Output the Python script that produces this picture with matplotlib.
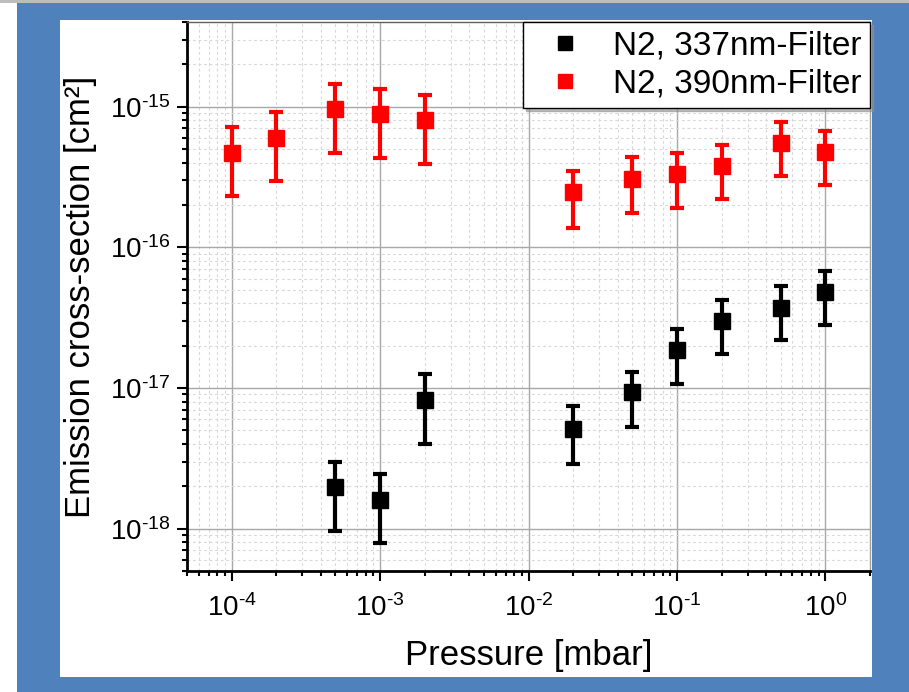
import matplotlib
matplotlib.use("Agg")
import matplotlib.pyplot as plt
from matplotlib.patches import Rectangle
from matplotlib.lines import Line2D
from matplotlib.ticker import LogLocator, NullFormatter, FixedLocator, FuncFormatter
import numpy as np

plt.rcParams['font.family'] = ['Liberation Sans', 'DejaVu Sans']
plt.rcParams['mathtext.fontset'] = 'custom'
plt.rcParams['mathtext.rm'] = 'Liberation Sans'
plt.rcParams['mathtext.it'] = 'Liberation Sans:italic'
plt.rcParams['mathtext.bf'] = 'Liberation Sans:bold'
plt.rcParams['axes.unicode_minus'] = False

# Data
pressure = [1e-4, 2e-4, 5e-4, 1e-3, 2e-3, 2e-2, 5e-2, 1e-1, 2e-1, 5e-1, 1.0]

red_y = [4.71e-16, 6.02e-16, 9.6e-16, 8.87e-16, 8.04e-16,
         2.46e-16, 3.06e-16, 3.32e-16, 3.79e-16, 5.49e-16, 4.79e-16]
red_hi = [7.15e-16, 9.1e-16, 1.44e-15, 1.34e-15, 1.21e-15,
          3.51e-16, 4.37e-16, 4.71e-16, 5.35e-16, 7.74e-16, 6.68e-16]
red_lo = [2.32e-16, 2.96e-16, 4.67e-16, 4.34e-16, 3.92e-16,
          1.37e-16, 1.76e-16, 1.9e-16, 2.2e-16, 3.2e-16, 2.78e-16]

black_x = [5e-4, 1e-3, 2e-3, 2e-2, 5e-2, 1e-1, 2e-1, 5e-1, 1.0]
black_y = [1.98e-18, 1.6e-18, 8.2e-18, 5.1e-18, 9.3e-18, 1.85e-17, 2.98e-17, 3.73e-17, 4.79e-17]
black_hi = [2.98e-18, 2.45e-18, 1.26e-17, 7.4e-18, 1.31e-17, 2.62e-17, 4.2e-17, 5.28e-17, 6.75e-17]
black_lo = [9.6e-19, 7.9e-19, 4.0e-18, 2.88e-18, 5.3e-18, 1.06e-17, 1.74e-17, 2.18e-17, 2.79e-17]

labels = ["N2, 337nm-Filter", "N2, 390nm-Filter"]
x_major = [1e-4, 1e-3, 1e-2, 1e-1, 1e0]
y_major = [1e-18, 1e-17, 1e-16, 1e-15]

W, H = 909, 692
fig = plt.figure(figsize=(W / 100, H / 100), dpi=100)
fig.patch.set_facecolor('white')

def px_rect(x0, y0, x1, y1, color):
    fig.patches.append(Rectangle((x0 / W, 1 - y1 / H), (x1 - x0) / W, (y1 - y0) / H,
                                 transform=fig.transFigure, facecolor=color,
                                 edgecolor='none', zorder=-10))

px_rect(0, 0, W, 2.5, '#bdbdbd')
px_rect(17, 2.5, W, H, '#4f81bd')
px_rect(60, 20, 872, 677, 'white')

ax = fig.add_axes([187 / W, 1 - 571 / H, (870 - 187) / W, (571 - 22) / H])
ax.set_xscale('log')
ax.set_yscale('log')
ax.set_xlim(5e-5, 2.0)
ax.set_ylim(5e-19, 4e-15)

def errs(y, hi, lo):
    y = np.array(y); hi = np.array(hi); lo = np.array(lo)
    return [y - lo, hi - y]

ax.errorbar(black_x, black_y, yerr=errs(black_y, black_hi, black_lo), fmt='s',
            color='black', ms=11, elinewidth=3, capsize=5.3, capthick=3, zorder=5)
ax.errorbar(pressure, red_y, yerr=errs(red_y, red_hi, red_lo), fmt='s',
            color='#ff0000', ms=11, elinewidth=3, capsize=5.3, capthick=3, zorder=5)

def fmt(v, pos):
    e = int(round(np.log10(v)))
    if e < 0:
        return "$\\mathdefault{10^{\\text{-}%d}}$" % abs(e)
    return "$\\mathdefault{10^{%d}}$" % e

ax.xaxis.set_major_locator(FixedLocator(x_major))
ax.yaxis.set_major_locator(FixedLocator(y_major))
ax.xaxis.set_major_formatter(FuncFormatter(fmt))
ax.yaxis.set_major_formatter(FuncFormatter(fmt))
ax.xaxis.set_minor_locator(LogLocator(base=10, subs=np.arange(2, 10), numticks=50))
ax.yaxis.set_minor_locator(LogLocator(base=10, subs=np.arange(2, 10), numticks=50))
ax.xaxis.set_minor_formatter(NullFormatter())
ax.yaxis.set_minor_formatter(NullFormatter())

ax.grid(True, which='major', color='#a8a8a8', linewidth=1.0, linestyle='-', zorder=0)
ax.grid(True, which='minor', color='#d8d8d8', linewidth=0.8, linestyle=(0, (2.5, 2.5)), zorder=0)
ax.set_axisbelow(True)

ax.tick_params(which='major', direction='out', length=7, width=1.5, labelsize=20,
               top=False, right=False, pad=5)
ax.tick_params(which='minor', direction='out', length=3.5, width=1.5, top=False, right=False)
ax.tick_params(axis='x', which='major', pad=10)

for s in ['left', 'bottom']:
    ax.spines[s].set_linewidth(2)
    ax.spines[s].set_color('black')
ax.spines['top'].set_color('#606060')
ax.spines['top'].set_linewidth(1)
ax.spines['right'].set_color('#a0a0a0')
ax.spines['right'].set_linewidth(1)

ax.set_xlabel("Pressure [mbar]", fontsize=25, labelpad=12)
ax.set_ylabel("Emission cross-section [cm²]", fontsize=25, labelpad=9)

handles = [Line2D([], [], marker='s', linestyle='none', color='black', ms=10),
           Line2D([], [], marker='s', linestyle='none', color='#ff0000', ms=10)]
leg = ax.legend(handles, labels, loc='upper right', fontsize=24, frameon=True, fancybox=False,
                edgecolor='black', borderaxespad=0, handletextpad=0.45, handlelength=2.0,
                borderpad=0.25, labelspacing=0.22,
                shadow={'color': '#909090', 'alpha': 0.6, 'ox': 2, 'oy': -2})
leg.get_frame().set_linewidth(1.0)

fig.savefig("out.png", dpi=100, facecolor=fig.get_facecolor())
